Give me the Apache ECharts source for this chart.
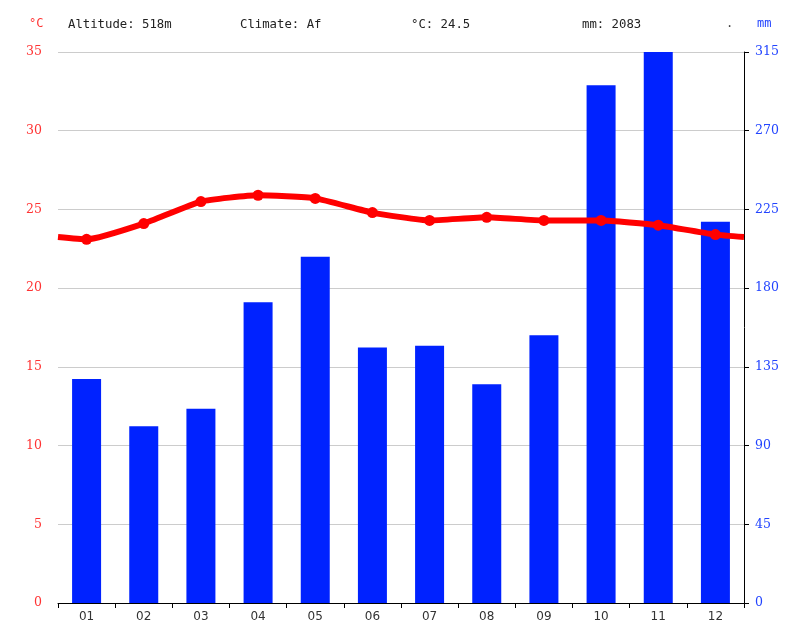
<!DOCTYPE html>
<html>
<head>
<meta charset="utf-8">
<script src="https://cdn.jsdelivr.net/npm/echarts@6/dist/echarts.min.js"></script>
<style>
html, body { margin: 0; padding: 0; background: #fff; }
#chart { width: 804px; height: 642px; }
</style>
</head>
<body>
<div id="chart"></div>
<script>
var months = ['01', '02', '03', '04', '05', '06', '07', '08', '09', '10', '11', '12'];
var precip = [128, 101, 111, 172, 198, 146, 147, 125, 153, 296, 315, 218]; // mm
var temp = [23.1, 24.1, 25.5, 25.9, 25.7, 24.8, 24.3, 24.5, 24.3, 24.3, 24.0, 23.4]; // °C
var tempTicks = [0, 5, 10, 15, 20, 25, 30, 35];
var mmTicks = [0, 45, 90, 135, 180, 225, 270, 315];
var header = ['Altitude: 518m', 'Climate: Af', '°C: 24.5', 'mm: 2083'];

var chart = echarts.init(document.getElementById('chart'));

// the temperature line runs to both plot edges, meeting Dec/Jan half way
var edge = (temp[0] + temp[11]) / 2;
var lineData = [{ value: [0, edge], symbol: 'none' }];
temp.forEach(function (t, i) {
	lineData.push([i + 0.5, t]);
});
lineData.push({ value: [12, edge], symbol: 'none' });

var headerX = [68, 240, 411, 582];
var graphics = header.map(function (s, i) {
	return {
		type: 'text', left: headerX[i], top: 19,
		style: { text: s, font: '12.3px "DejaVu Sans Mono"', fill: '#222' }
	};
});
graphics.push({ type: 'text', left: 29, top: 18, style: { text: '°C', font: '12px "DejaVu Sans Mono"', fill: '#ff3333' } });
graphics.push({ type: 'text', left: 757, top: 18, style: { text: 'mm', font: '12px "DejaVu Sans Mono"', fill: '#2244ff' } });
graphics.push({ type: 'text', left: 726, top: 18, style: { text: '.', font: '12px "DejaVu Sans Mono"', fill: '#444' } });

var option = {
	animation: false,
	backgroundColor: '#fff',
	grid: { left: 58, right: 60, top: 52, bottom: 39 },
	graphic: graphics,
	xAxis: [{
		type: 'category',
		data: months,
		axisLine: { lineStyle: { color: '#000', width: 1 } },
		axisTick: { show: true, length: 5, lineStyle: { color: '#000' } },
		axisLabel: { color: '#333', fontFamily: 'DejaVu Sans', fontSize: 12, margin: 8 }
	}, {
		type: 'value', min: 0, max: 12, show: false
	}],
	yAxis: [{
		type: 'value', min: 0, max: 35, interval: 5,
		axisLine: { show: false },
		axisTick: { show: false },
		splitLine: { lineStyle: { color: '#cccccc' } },
		axisLabel: {
			color: '#ff3333', fontFamily: 'DejaVu Serif', fontSize: 12.5, margin: 16,
			formatter: function (v) { return tempTicks.indexOf(v) >= 0 ? v : ''; }
		}
	}, {
		type: 'value', min: 0, max: 315, interval: 45,
		position: 'right',
		axisLine: { show: true, lineStyle: { color: '#000', width: 1 } },
		axisTick: { show: true, length: 5, lineStyle: { color: '#000' } },
		splitLine: { show: false },
		axisLabel: {
			color: '#2244ff', fontFamily: 'DejaVu Serif', fontSize: 12.5, margin: 11,
			formatter: function (v) { return mmTicks.indexOf(v) >= 0 ? v : ''; }
		}
	}],
	series: [{
		type: 'bar',
		xAxisIndex: 0,
		yAxisIndex: 1,
		data: precip,
		barWidth: 29,
		itemStyle: { color: '#0022ff' }
	}, {
		type: 'line',
		xAxisIndex: 1,
		yAxisIndex: 0,
		data: lineData,
		smooth: 0.15,
		symbol: 'circle',
		symbolSize: 11,
		lineStyle: { color: '#ff0000', width: 6 },
		itemStyle: { color: '#ff0000' },
		z: 5
	}]
};
chart.setOption(option);
</script>
</body>
</html>
